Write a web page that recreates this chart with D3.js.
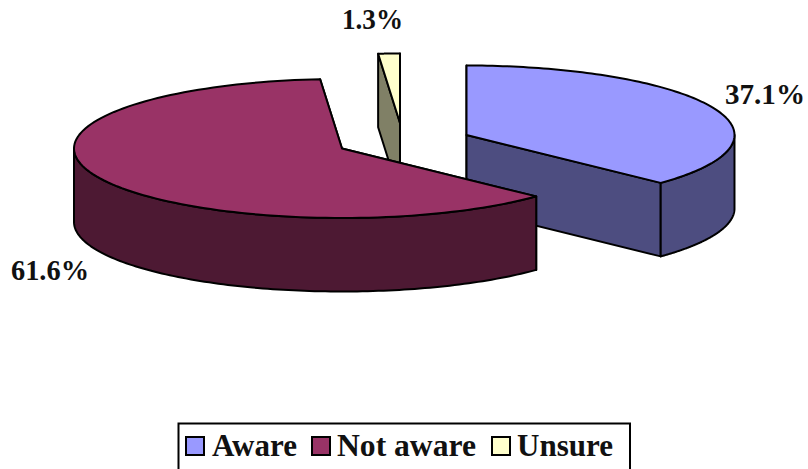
<!DOCTYPE html>
<html><head><meta charset="utf-8">
<script src="https://cdn.jsdelivr.net/npm/d3@7/dist/d3.min.js"></script>
<style>html,body{margin:0;padding:0;background:#fff}svg{display:block}
text{font-family:"Liberation Serif",serif;font-weight:700;fill:#111}</style></head>
<body><svg id="c" width="808" height="469"></svg>
<script>
const categories = ["Aware", "Not aware", "Unsure"];
const values = [37.1, 61.6, 1.3];
const labels = ["37.1%", "61.6%", "1.3%"];
const topColors = ["#9999FF", "#993366", "#FFFFCC"];
const sideColors = ["#4D4D80", "#4D1933", "#808066"];
const centers = [[466.5, 135], [342, 148.5], [400, 123]];
const labelPos = [[725, 104], [11, 280], [342, 29]];
const legendX = [186, 312, 492];
const legendTextX = [212, 337, 517];
const RX = 268, RY = 69.5, DEPTH = 73.5;

const svg = d3.select("#c");
const arcs = d3.pie().sort(null).startAngle(0).endAngle(2 * Math.PI)(values);
const line = d3.line();

function px(i) {
  const x = d3.scaleLinear().domain([-1, 1]).range([centers[i][0] - RX, centers[i][0] + RX]);
  const y = d3.scaleLinear().domain([-1, 1]).range([centers[i][1] - RY, centers[i][1] + RY]);
  return a => [x(Math.sin(a)), y(-Math.cos(a))];
}
const angles = (a, b) => d3.range(0, 121).map(k => a + (b - a) * k / 120);
const down = p => [p[0], p[1] + DEPTH];
const shape = (fill, pts) => svg.append("path").attr("d", line(pts) + "Z")
  .attr("fill", fill).attr("stroke", "#000").attr("stroke-width", 2).attr("stroke-linejoin", "round");

// back to front: Unsure, Aware, Not aware
[2, 0, 1].forEach(i => {
  const P = px(i), d = arcs[i], c = centers[i];
  const s = d.startAngle, e = d.endAngle;
  const P0 = P(s), P1 = P(e);
  shape(sideColors[i], [c, P0, down(P0), down(c)]);
  shape(sideColors[i], [c, P1, down(P1), down(c)]);
  const fa = Math.max(s, Math.PI / 2), fb = Math.min(e, 3 * Math.PI / 2);
  if (fb > fa) {
    const rim = angles(fa, fb).map(P);
    shape(sideColors[i], rim.concat(rim.slice().reverse().map(down)));
  }
  shape(topColors[i], [c].concat(angles(s, e).map(P)));
});

const labelW = [80, 78, 61];
labels.forEach((t, i) => svg.append("text").attr("x", labelPos[i][0]).attr("y", labelPos[i][1])
  .attr("font-size", 30).attr("textLength", labelW[i]).attr("lengthAdjust", "spacingAndGlyphs").text(t));

// legend, its lower edge falls off the picture
svg.append("path").attr("d", "M178.5,469V423.5H630V469").attr("fill", "none").attr("stroke", "#000").attr("stroke-width", 2);
const legendW = [85, 139, 96];
categories.forEach((t, i) => {
  svg.append("rect").attr("x", legendX[i]).attr("y", 437).attr("width", 18).attr("height", 18)
    .attr("fill", topColors[i]).attr("stroke", "#000").attr("stroke-width", 2);
  svg.append("text").attr("x", legendTextX[i]).attr("y", 456).attr("font-size", 32)
    .attr("textLength", legendW[i]).attr("lengthAdjust", "spacingAndGlyphs").text(t);
});
</script></body></html>
